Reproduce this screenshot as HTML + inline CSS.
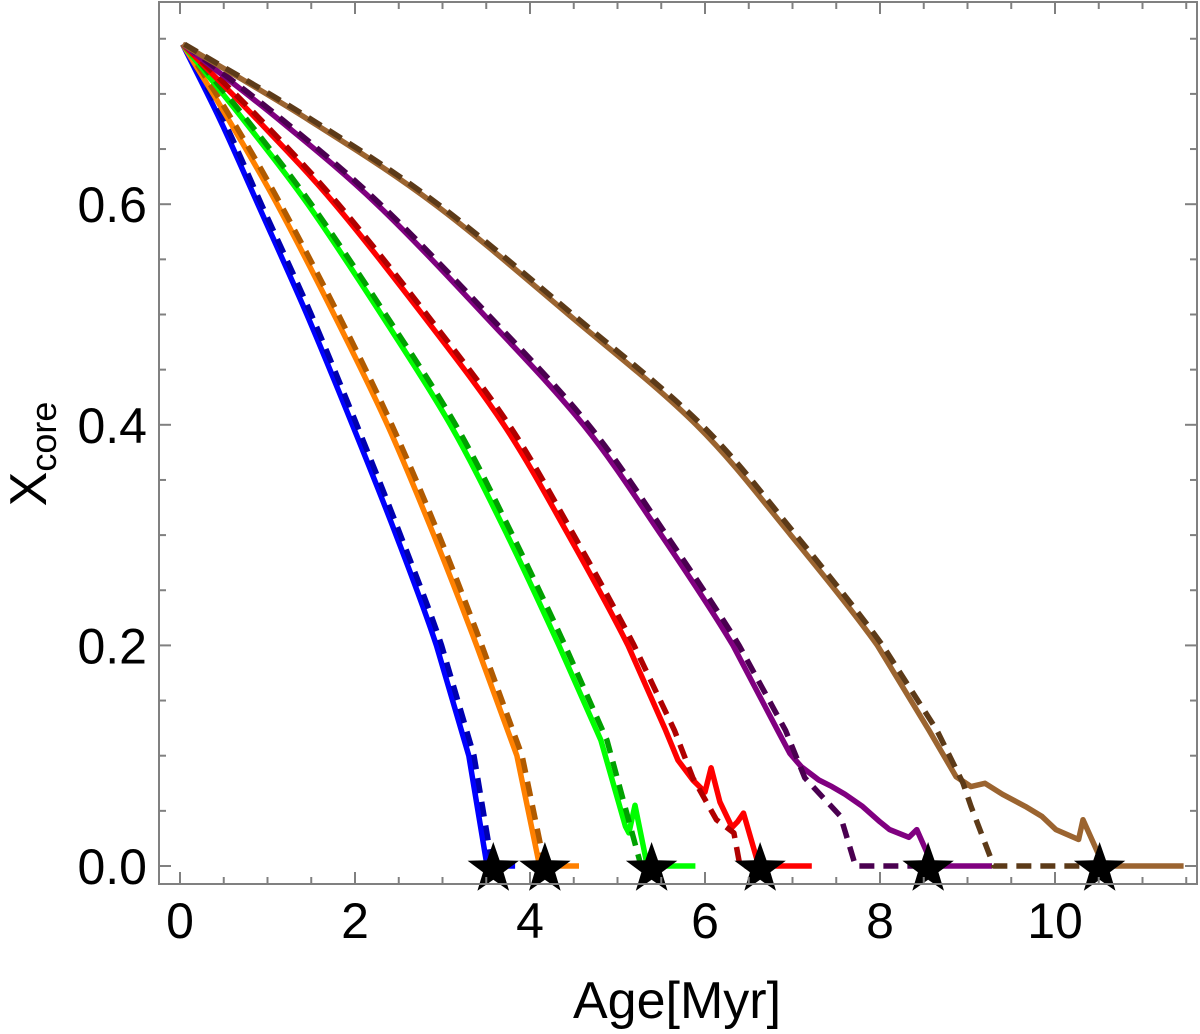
<!DOCTYPE html>
<html><head><meta charset="utf-8">
<style>
html,body{margin:0;padding:0;background:#fff;}
svg{display:block;font-family:"Liberation Sans",Arial,sans-serif;}
</style></head>
<body>
<svg id="chart" width="1200" height="1034" viewBox="0 0 1200 1034" xmlns="http://www.w3.org/2000/svg">
  <rect x="0" y="0" width="1200" height="1034" fill="#fff"/>
  <g id="series"></g>
  <g id="axes"></g>
  <text x="677" y="1018" font-size="52" text-anchor="middle" fill="#000">Age[Myr]</text>
  <text transform="translate(46,454) rotate(-90)" font-size="52" text-anchor="middle" fill="#000">X<tspan font-size="36" dy="10">core</tspan></text>
</svg>
<script>
const xTicks = [0, 2, 4, 6, 8, 10];
const yTicks = [0.0, 0.2, 0.4, 0.6];
const yTickLabels = ["0.0", "0.2", "0.4", "0.6"];

const blueSolid = [[0.03,0.745],[0.46,0.676],[0.89,0.6],[1.45,0.5],[1.97,0.4],[2.47,0.3],[2.93,0.2],[3.3,0.1],[3.51,0],[3.83,0]];
const blueDash = [[0.05,0.745],[0.5,0.676],[0.93,0.6],[1.5,0.5],[2.02,0.4],[2.52,0.3],[2.99,0.2],[3.36,0.1],[3.57,0],[3.7,0]];
const orangeSolid = [[0.03,0.745],[0.56,0.676],[1.11,0.6],[1.76,0.5],[2.37,0.4],[2.9,0.3],[3.39,0.2],[3.85,0.1],[4.11,0],[4.56,0]];
const orangeDash = [[0.05,0.745],[0.6,0.676],[1.15,0.6],[1.81,0.5],[2.42,0.4],[2.96,0.3],[3.45,0.2],[3.91,0.1],[4.17,0],[4.2,0]];
const greenSolid = [[0.03,0.745],[0.73,0.676],[1.46,0.6],[2.3,0.5],[3.09,0.4],[3.74,0.3],[4.33,0.2],[4.81,0.114],[5.09,0.036],[5.13,0.03],[5.2,0.055],[5.34,0],[5.89,0]];
const greenDash = [[0.05,0.745],[0.77,0.676],[1.5,0.6],[2.35,0.5],[3.15,0.4],[3.8,0.3],[4.4,0.2],[4.88,0.114],[5.27,0],[5.39,0]];
const redSolid = [[0.03,0.745],[0.89,0.676],[1.77,0.6],[2.77,0.5],[3.7,0.4],[4.44,0.3],[5.12,0.2],[5.55,0.123],[5.69,0.096],[5.86,0.078],[6.0,0.067],[6.07,0.089],[6.17,0.058],[6.31,0.035],[6.37,0.04],[6.44,0.048],[6.59,0.007],[6.61,0],[7.22,0]];
const redDash = [[0.05,0.745],[0.93,0.676],[1.81,0.6],[2.82,0.5],[3.76,0.4],[4.5,0.3],[5.19,0.2],[5.65,0.123],[5.86,0.08],[6.13,0.042],[6.33,0.03],[6.4,0],[6.63,0]];
const purpleSolid = [[0.03,0.745],[1.14,0.676],[2.25,0.6],[3.47,0.5],[4.61,0.4],[5.5,0.3],[6.32,0.2],[6.83,0.123],[6.97,0.102],[7.1,0.09],[7.3,0.078],[7.45,0.072],[7.6,0.065],[7.8,0.054],[8.0,0.04],[8.11,0.033],[8.33,0.026],[8.42,0.033],[8.56,0.008],[8.58,0],[9.28,0]];
const purpleDash = [[0.05,0.745],[1.18,0.676],[2.29,0.6],[3.52,0.5],[4.67,0.4],[5.56,0.3],[6.39,0.2],[6.92,0.123],[7.14,0.08],[7.55,0.045],[7.72,0],[8.55,0]];
const brownSolid = [[0.03,0.745],[1.48,0.676],[2.91,0.6],[4.44,0.5],[5.9,0.4],[6.98,0.3],[7.97,0.2],[8.56,0.123],[8.87,0.081],[9.04,0.072],[9.2,0.075],[9.4,0.065],[9.66,0.054],[9.85,0.045],[10.01,0.033],[10.27,0.024],[10.32,0.042],[10.54,0.003],[10.56,0],[11.47,0]];
const brownDash = [[0.05,0.745],[1.52,0.676],[2.95,0.6],[4.49,0.5],[5.96,0.4],[7.04,0.3],[8.03,0.2],[8.65,0.123],[8.95,0.075],[9.04,0.054],[9.3,0],[10.51,0]];
const starAges = [3.58, 4.17, 5.39, 6.63, 8.55, 10.51];

const NS = "http://www.w3.org/2000/svg";
const X0 = 180, XS = 87.5, Y0 = 866, YS = 1103;
const L = 159, R = 1197, T = 2, B = 884;
function sx(v){ return X0 + v*XS; }
function sy(v){ return Y0 - v*YS; }
function mk(tag, attrs, parent){
  const e = document.createElementNS(NS, tag);
  for (const k in attrs) e.setAttribute(k, attrs[k]);
  parent.appendChild(e);
  return e;
}
const series = document.getElementById('series');
const axes = document.getElementById('axes');

function buildPath(pts){
  const P = pts.map(p => [sx(p[0]), sy(p[1])]);
  let d = 'M' + P[0][0].toFixed(1) + ',' + P[0][1].toFixed(1);
  for (let i=0; i<P.length-1; i++){
    const smooth = pts[i][1] >= 0.19 && pts[i+1][1] >= 0.19;
    if (smooth){
      const p0 = P[Math.max(0,i-1)], p1 = P[i], p2 = P[i+1];
      const p3 = (i+2 < P.length && pts[i+2][1] >= 0.1) ? P[i+2] : p2;
      const c1 = [p1[0] + (p2[0]-p0[0])/6, p1[1] + (p2[1]-p0[1])/6];
      const c2 = [p2[0] - (p3[0]-p1[0])/6, p2[1] - (p3[1]-p1[1])/6];
      d += 'C' + c1[0].toFixed(1)+','+c1[1].toFixed(1)+' '+c2[0].toFixed(1)+','+c2[1].toFixed(1)+' '+p2[0].toFixed(1)+','+p2[1].toFixed(1);
    } else {
      d += 'L' + P[i+1][0].toFixed(1) + ',' + P[i+1][1].toFixed(1);
    }
  }
  return d;
}

const seriesDefs = [
  [blueSolid, '#0000ff', false, 'blue-solid-line'],
  [blueDash, '#0000b0', true, 'blue-dashed-line'],
  [orangeSolid, '#ff8000', false, 'orange-solid-line'],
  [orangeDash, '#b05a00', true, 'orange-dashed-line'],
  [greenSolid, '#00ff00', false, 'green-solid-line'],
  [greenDash, '#00a000', true, 'green-dashed-line'],
  [redSolid, '#ff0000', false, 'red-solid-line'],
  [redDash, '#b00000', true, 'red-dashed-line'],
  [purpleSolid, '#800080', false, 'purple-solid-line'],
  [purpleDash, '#4a0050', true, 'purple-dashed-line'],
  [brownSolid, '#9b6430', false, 'brown-solid-line'],
  [brownDash, '#5c3a18', true, 'brown-dashed-line']
];
for (const [pts, col, dashed, name] of seriesDefs){
  const a = {d:buildPath(pts), fill:'none', stroke:col, 'stroke-width':5.5, 'stroke-linejoin':'round'};
  if (dashed) a['stroke-dasharray'] = '15,9';
  const pl = mk('path', a, series);
  
  
}
function starPath(cx, cy, r){
  let s = '';
  for (let i=0;i<10;i++){
    const rr = i%2===0 ? r : r*0.4;
    const ang = -Math.PI/2 + i*Math.PI/5;
    s += (i===0?'M':'L') + (cx+rr*Math.cos(ang)).toFixed(1)+','+(cy+rr*Math.sin(ang)).toFixed(1);
  }
  return s+'Z';
}
for (const a of starAges){
  const st = mk('path', {d:starPath(sx(a), sy(0)+3, 27), fill:'#000'}, series);
  
  
}

const frame = mk('rect', {x:L, y:T, width:R-L, height:B-T, fill:'none', stroke:'#808080', 'stroke-width':2}, axes);



for (let v=0; v<=11.5; v+=0.5){
  const major = Math.abs(v/2 - Math.round(v/2)) < 1e-6;
  const len = major ? 12 : 7;
  const x = sx(v);
  const t1 = mk('line', {x1:x, y1:B, x2:x, y2:B-len, stroke:'#808080', 'stroke-width':2}, axes);
  
  
  const t2 = mk('line', {x1:x, y1:T, x2:x, y2:T+len, stroke:'#808080', 'stroke-width':2}, axes);
  
  
}
for (let i=0; i<=15; i++){
  const v = i*0.05;
  const major = i%4===0;
  const len = major ? 12 : 7;
  const y = sy(v);
  const t1 = mk('line', {x1:L, y1:y, x2:L+len, y2:y, stroke:'#808080', 'stroke-width':2}, axes);
  
  
  const t2 = mk('line', {x1:R, y1:y, x2:R-len, y2:y, stroke:'#808080', 'stroke-width':2}, axes);
  
  
}
for (const v of xTicks){
  const t = mk('text', {x:sx(v), y:938, 'font-size':50, 'text-anchor':'middle', fill:'#000'}, axes);
  t.textContent = String(v);
  
  
}
yTicks.forEach((v, i) => {
  const t = mk('text', {x:147, y:sy(v)+18, 'font-size':50, 'text-anchor':'end', fill:'#000'}, axes);
  t.textContent = yTickLabels[i];
  
  
});
</script>
</body></html>
